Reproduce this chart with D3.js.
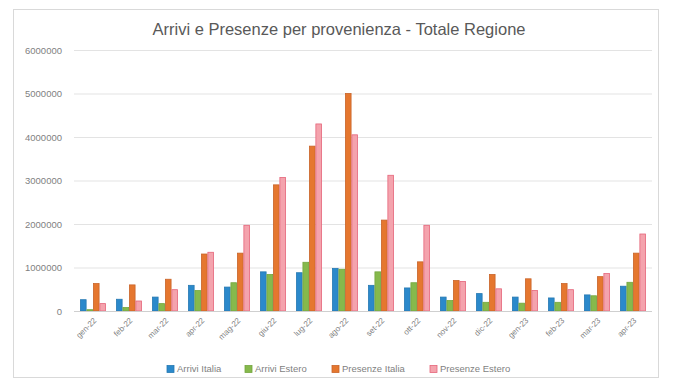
<!DOCTYPE html>
<html>
<head>
<meta charset="utf-8">
<script src="https://cdn.jsdelivr.net/npm/d3@7/dist/d3.min.js"></script>
<style>
  html, body { margin: 0; padding: 0; background: #fff; }
  svg { display: block; }
</style>
</head>
<body>
<svg id="chart" width="675" height="383"></svg>
<script>
// Mesi di riferimento
const months = ["gen-22", "feb-22", "mar-22", "apr-22", "mag-22", "giu-22", "lug-22", "ago-22",
                "set-22", "ott-22", "nov-22", "dic-22", "gen-23", "feb-23", "mar-23", "apr-23"];

// Serie (valori assoluti)
const arriviItalia   = [260000, 270000, 320000, 590000, 550000, 900000, 880000, 980000,
                        590000, 530000, 320000, 400000, 320000, 300000, 370000, 570000];
const arriviEstero   = [30000, 80000, 170000, 470000, 650000, 840000, 1120000, 960000,
                        900000, 650000, 240000, 200000, 180000, 200000, 350000, 660000];
const presenzeItalia = [630000, 600000, 730000, 1310000, 1330000, 2900000, 3790000, 5000000,
                        2090000, 1130000, 700000, 840000, 740000, 630000, 790000, 1330000];
const presenzeEstero = [170000, 230000, 490000, 1350000, 1970000, 3070000, 4300000, 4050000,
                        3120000, 1970000, 680000, 510000, 470000, 490000, 860000, 1770000];

const seriesNames = ["Arrivi Italia", "Arrivi Estero", "Presenze Italia", "Presenze Estero"];
const seriesValues = [arriviItalia, arriviEstero, presenzeItalia, presenzeEstero];
const yTicks = [0, 1000000, 2000000, 3000000, 4000000, 5000000, 6000000];

const fills   = ["#2b89cb", "#86b94c", "#e5772f", "#f4a3ad"];
const strokes = ["#2679b2", "#74a63f", "#c9642a", "#e5657a"];

const svg = d3.select("#chart");
const font = "'Liberation Sans', Arial, sans-serif";

// Cornice del grafico
svg.append("rect")
  .attr("x", 13.5).attr("y", 9.5)
  .attr("width", 645).attr("height", 368)
  .attr("fill", "#fff").attr("stroke", "#d9d9d9");

const plot = { left: 75, right: 651, top: 50, bottom: 311 };

const x0 = d3.scaleBand().domain(months)
  .range([plot.left, plot.right])
  .paddingInner(0.28).paddingOuter(0.14);
const x1 = d3.scaleBand().domain(d3.range(seriesNames.length))
  .range([0, x0.bandwidth()]);
const y = d3.scaleLinear().domain([0, 6000000]).range([plot.bottom, plot.top]);

// Titolo
svg.append("text")
  .attr("x", 339).attr("y", 35)
  .attr("text-anchor", "middle")
  .attr("font-family", font).attr("font-size", 16.5)
  .attr("fill", "#595959")
  .text("Arrivi e Presenze per provenienza - Totale Regione");

// Griglia e etichette asse Y
const yAxis = d3.axisLeft(y).tickValues(yTicks)
  .tickSize(-(plot.right - plot.left + 2)).tickPadding(12)
  .tickFormat(d3.format("d"));
const gy = svg.append("g")
  .attr("transform", `translate(${plot.left - 1},0)`)
  .call(yAxis);
gy.select(".domain").remove();
gy.selectAll(".tick line").attr("stroke", "#e3e3e3");
gy.selectAll(".tick text")
  .attr("font-family", font).attr("font-size", 9.5)
  .attr("fill", "#7f7f7f");

// Barre
const groups = svg.append("g").selectAll("g")
  .data(months)
  .join("g")
  .attr("transform", d => `translate(${x0(d)},0)`);

groups.selectAll("rect")
  .data((m, i) => seriesValues.map((vals, s) => ({ s, v: vals[i] })))
  .join("rect")
  .attr("x", d => x1(d.s) + 0.4)
  .attr("width", x1.bandwidth() - 0.8)
  .attr("y", d => y(d.v))
  .attr("height", d => y(0) - y(d.v))
  .attr("fill", d => fills[d.s])
  .attr("stroke", d => strokes[d.s])
  .attr("stroke-width", 0.8);

// Asse X
const xAxis = d3.axisBottom(x0).tickSize(0).tickPadding(0);
const gx = svg.append("g")
  .attr("transform", `translate(0,${plot.bottom})`)
  .call(xAxis);
gx.select(".domain").attr("stroke", "#cfcfcf").attr("d", `M${plot.left - 1},0.5H${plot.right + 1}`);
gx.selectAll(".tick text")
  .attr("font-family", font).attr("font-size", 8)
  .attr("fill", "#7f7f7f")
  .attr("text-anchor", "end")
  .attr("dy", 0)
  .attr("transform", "translate(4,10) rotate(-45)");

// Legenda
const legendX = [167, 245, 332, 430];
const legend = svg.append("g").selectAll("g")
  .data(seriesNames)
  .join("g")
  .attr("transform", (d, i) => `translate(${legendX[i]},365.5)`);
legend.append("rect")
  .attr("width", 7).attr("height", 7)
  .attr("fill", (d, i) => fills[i])
  .attr("stroke", (d, i) => strokes[i]).attr("stroke-width", 0.8);
legend.append("text")
  .attr("x", 10).attr("y", 6.8)
  .attr("font-family", font).attr("font-size", 9.5)
  .attr("fill", "#7f7f7f")
  .text(d => d);
</script>
</body>
</html>
